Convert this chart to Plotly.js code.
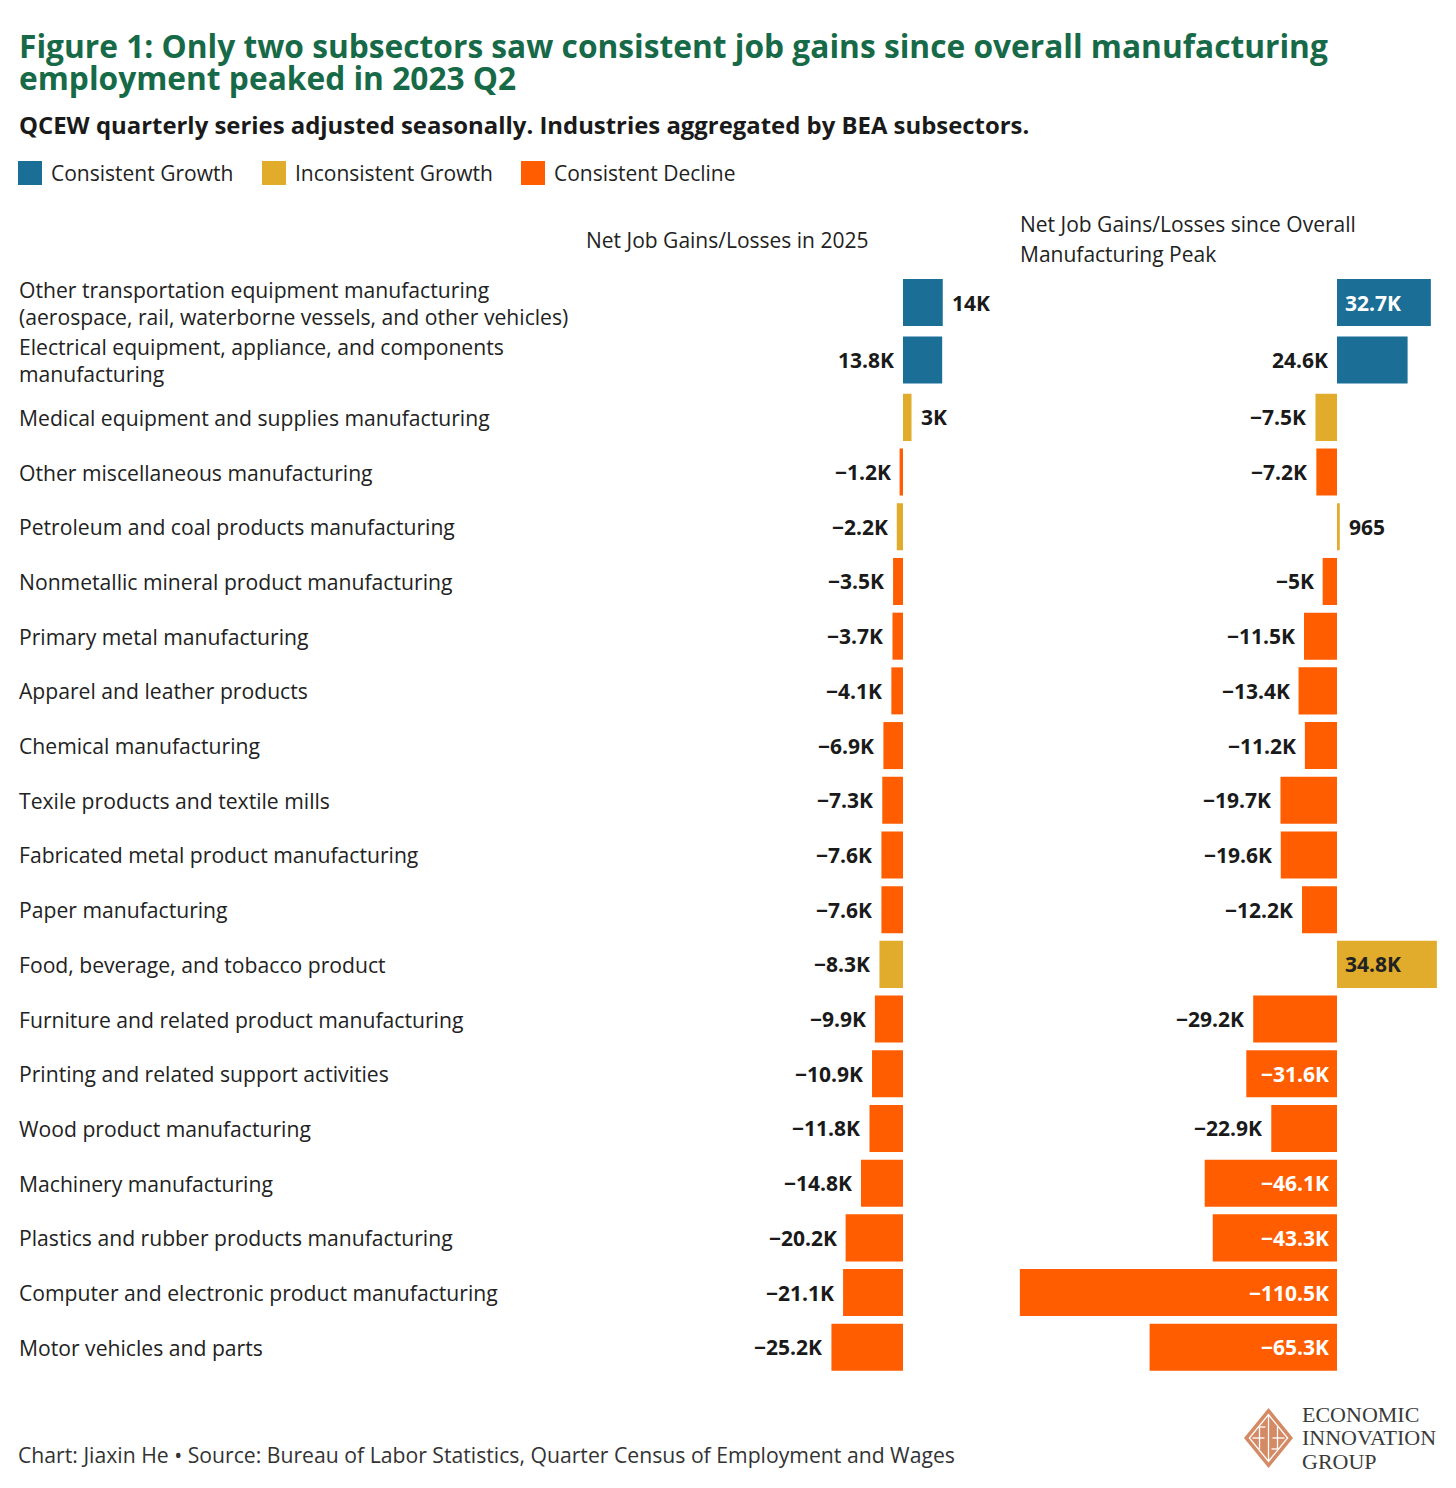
<!DOCTYPE html>
<html>
<head>
<meta charset="utf-8">
<script src="https://cdn.plot.ly/plotly-3.0.1.min.js"></script>
<style>
  html, body { margin: 0; padding: 0; background: #ffffff; }
  #chart { width: 1456px; height: 1488px; }
</style>
</head>
<body>
<div id="chart"></div>
<script>
// Manufacturing subsectors (BEA), ordered as displayed
const subsectors = [
  "Other transportation equipment manufacturing<br>(aerospace, rail, waterborne vessels, and other vehicles)",
  "Electrical equipment, appliance, and components<br>manufacturing",
  "Medical equipment and supplies manufacturing",
  "Other miscellaneous manufacturing",
  "Petroleum and coal products manufacturing",
  "Nonmetallic mineral product manufacturing",
  "Primary metal manufacturing",
  "Apparel and leather products",
  "Chemical manufacturing",
  "Texile products and textile mills",
  "Fabricated metal product manufacturing",
  "Paper manufacturing",
  "Food, beverage, and tobacco product",
  "Furniture and related product manufacturing",
  "Printing and related support activities",
  "Wood product manufacturing",
  "Machinery manufacturing",
  "Plastics and rubber products manufacturing",
  "Computer and electronic product manufacturing",
  "Motor vehicles and parts"
];

// Trend classification for each subsector
const trend = [
  "Consistent Growth", "Consistent Growth", "Inconsistent Growth", "Consistent Decline",
  "Inconsistent Growth", "Consistent Decline", "Consistent Decline", "Consistent Decline",
  "Consistent Decline", "Consistent Decline", "Consistent Decline", "Consistent Decline",
  "Inconsistent Growth", "Consistent Decline", "Consistent Decline", "Consistent Decline",
  "Consistent Decline", "Consistent Decline", "Consistent Decline", "Consistent Decline"
];

// Net job gains/losses in 2025 (thousands of jobs)
const netJobs2025 = [14, 13.8, 3, -1.2, -2.2, -3.5, -3.7, -4.1, -6.9, -7.3,
                     -7.6, -7.6, -8.3, -9.9, -10.9, -11.8, -14.8, -20.2, -21.1, -25.2];

// Net job gains/losses since the overall manufacturing peak, 2023 Q2 (thousands of jobs)
const netJobsSincePeak = [32.7, 24.6, -7.5, -7.2, 0.965, -5, -11.5, -13.4, -11.2, -19.7,
                          -19.6, -12.2, 34.8, -29.2, -31.6, -22.9, -46.1, -43.3, -110.5, -65.3];

const legendItems = ["Consistent Growth", "Inconsistent Growth", "Consistent Decline"];

// ---------- styling ----------
const W = 1456, H = 1488;
const FONT = "Open Sans, Noto Sans, sans-serif";
const colors = {
  "Consistent Growth": "#1b6e96",
  "Inconsistent Growth": "#e1ab2c",
  "Consistent Decline": "#ff5d00"
};
const insideTextColor = {
  "Consistent Growth": "#ffffff",
  "Inconsistent Growth": "#222222",
  "Consistent Decline": "#ffffff"
};
// value-label placement per row: "out" past the bar's positive end,
// "pre" to the left of the bar, "in" inside the bar next to zero
const placeLeft = ["out", "pre", "out", "pre", "pre", "pre", "pre", "pre", "pre", "pre",
                   "pre", "pre", "pre", "pre", "pre", "pre", "pre", "pre", "pre", "pre"];
const placeRight = ["in", "pre", "pre", "pre", "out", "pre", "pre", "pre", "pre", "pre",
                    "pre", "pre", "in", "pre", "in", "pre", "in", "in", "in", "in"];

const X = px => px / W;
const Y = py => 1 - py / H;

// row positions: rows with a two-line label get a little more room
const rowPos = [];
subsectors.forEach((s, i) => {
  if (i === 0) rowPos.push(0);
  else rowPos.push(rowPos[i - 1] + 1 + (subsectors[i - 1].includes("<br>") ? 0.05 : 0));
});
const rowUnit = 54.7;          // pixels per row unit
const firstRowPx = 302.5;      // centre of the first row
const yTopPx = firstRowPx - 0.5 * rowUnit;
const yBotPx = firstRowPx + (rowPos[rowPos.length - 1] + 0.5) * rowUnit;

// horizontal scales of the two panels
const leftPanel = { x0: 790, x1: 965, zero: 903, scale: 2.84 };
const rightPanel = { x0: 1000, x1: 1456, zero: 1337, scale: 2.87 };
const rangeOf = p => [(p.x0 - p.zero) / p.scale, (p.x1 - p.zero) / p.scale];

function fmt(v) {
  const a = Math.abs(v);
  let s;
  if (a < 1) s = String(Math.round(a * 1000));
  else s = (Math.round(a * 10) / 10).toString() + "K";
  return (v < 0 ? "\u2212" : "") + s;
}

const barColors = trend.map(t => colors[t]);

const traces = [
  {
    type: "bar", orientation: "h",
    x: netJobs2025, y: rowPos, width: 0.86,
    xaxis: "x", yaxis: "y",
    marker: { color: barColors, line: { width: 0 } },
    hoverinfo: "skip", showlegend: false
  },
  {
    type: "bar", orientation: "h",
    x: netJobsSincePeak, y: rowPos, width: 0.86,
    xaxis: "x2", yaxis: "y",
    marker: { color: barColors, line: { width: 0 } },
    hoverinfo: "skip", showlegend: false
  }
];

const annotations = [];
const shapes = [];
const TEXT = "#222222";
const BODY = 21.15;

// title, subtitle
annotations.push({
  xref: "paper", yref: "paper", x: X(17), y: Y(45), xanchor: "left", yanchor: "middle",
  text: "<b>Figure 1: Only two subsectors saw consistent job gains since overall manufacturing</b>",
  showarrow: false, font: { family: FONT, size: 31.7, color: "#176a47" }
});
annotations.push({
  xref: "paper", yref: "paper", x: X(17), y: Y(77), xanchor: "left", yanchor: "middle",
  text: "<b>employment peaked in 2023 Q2</b>",
  showarrow: false, font: { family: FONT, size: 31.7, color: "#176a47" }
});
annotations.push({
  xref: "paper", yref: "paper", x: X(17), y: Y(124), xanchor: "left", yanchor: "middle",
  text: "<b>QCEW quarterly series adjusted seasonally. Industries aggregated by BEA subsectors.</b>",
  showarrow: false, font: { family: FONT, size: 23.9, color: "#1a1a1a" }
});

// legend
const legendX = [18, 262, 521];
legendItems.forEach((name, i) => {
  shapes.push({
    type: "rect", xref: "paper", yref: "paper",
    x0: X(legendX[i]), x1: X(legendX[i] + 24), y0: Y(185), y1: Y(161),
    fillcolor: colors[name], line: { width: 0 }
  });
  annotations.push({
    xref: "paper", yref: "paper", x: X(legendX[i] + 31), y: Y(173), xanchor: "left", yanchor: "middle",
    text: name, showarrow: false, font: { family: FONT, size: 21, color: TEXT }
  });
});

// panel headers
annotations.push({
  xref: "paper", yref: "paper", x: X(584), y: Y(240), xanchor: "left", yanchor: "middle",
  text: "Net Job Gains/Losses in 2025", showarrow: false,
  font: { family: FONT, size: 21, color: TEXT }
});
annotations.push({
  xref: "paper", yref: "paper", x: X(1018), y: Y(224), xanchor: "left", yanchor: "middle",
  text: "Net Job Gains/Losses since Overall", showarrow: false,
  font: { family: FONT, size: 21, color: TEXT }
});
annotations.push({
  xref: "paper", yref: "paper", x: X(1018), y: Y(254), xanchor: "left", yanchor: "middle",
  text: "Manufacturing Peak", showarrow: false,
  font: { family: FONT, size: 21, color: TEXT }
});

// row labels
subsectors.forEach((name, i) => {
  annotations.push({
    xref: "paper", yref: "y", x: X(17), y: rowPos[i], xanchor: "left", yanchor: "middle",
    align: "left", text: name, showarrow: false,
    font: { family: FONT, size: BODY, color: TEXT }
  });
});

// value labels
function valueLabel(axis, v, place, i) {
  const t = trend[i];
  const ann = {
    xref: axis, yref: "y", y: rowPos[i], yanchor: "middle", showarrow: false,
    text: "<b>" + fmt(v) + "</b>",
    font: { family: FONT, size: 21, color: "#1a1a1a" }
  };
  if (place === "out") {
    ann.x = Math.max(0, v); ann.xanchor = "left"; ann.xshift = 7;
  } else if (place === "pre") {
    ann.x = Math.min(0, v); ann.xanchor = "right"; ann.xshift = -7;
  } else {
    ann.x = 0;
    ann.font.color = insideTextColor[t];
    if (v < 0) { ann.xanchor = "right"; ann.xshift = -6; }
    else { ann.xanchor = "left"; ann.xshift = 6; }
  }
  return ann;
}
netJobs2025.forEach((v, i) => annotations.push(valueLabel("x", v, placeLeft[i], i)));
netJobsSincePeak.forEach((v, i) => annotations.push(valueLabel("x2", v, placeRight[i], i)));

// footer
annotations.push({
  xref: "paper", yref: "paper", x: X(16), y: Y(1454), xanchor: "left", yanchor: "middle",
  text: "Chart: Jiaxin He \u2022 Source: Bureau of Labor Statistics, Quarter Census of Employment and Wages",
  showarrow: false, font: { family: FONT, size: 21.2, color: "#333333" }
});

// logo mark: copper diamond with white linework
const cx = 1268.5, cy = 1438, hw = 24.5, hh = 30;
const pathOf = pts => pts.map((p, k) => (k ? "L" : "M") + X(p[0]) + "," + Y(p[1])).join(" ");
shapes.push({
  type: "path", xref: "paper", yref: "paper",
  path: pathOf([[cx, cy - hh], [cx + hw, cy], [cx, cy + hh], [cx - hw, cy]]) + " Z",
  fillcolor: "#d48a64", line: { width: 0 }
});
const ins = 0.78;
shapes.push({
  type: "path", xref: "paper", yref: "paper",
  path: pathOf([[cx, cy - hh * ins], [cx + hw * ins, cy], [cx, cy + hh * ins], [cx - hw * ins, cy]]) + " Z",
  fillcolor: "rgba(0,0,0,0)", line: { color: "#ffffff", width: 1.3 }
});
[
  [[cx, cy - hh * ins], [cx, cy + hh * ins]],
  [[cx - 9, cy - 11], [cx - 9, cy + 11]],
  [[cx + 9, cy - 11], [cx + 9, cy + 11]],
  [[cx - 16, cy], [cx - 4, cy]],
  [[cx + 4, cy], [cx + 16, cy]],
  [[cx - 9, cy - 11], [cx - 3, cy - 11]],
  [[cx + 3, cy + 11], [cx + 9, cy + 11]]
].forEach(seg => {
  shapes.push({
    type: "line", xref: "paper", yref: "paper",
    x0: X(seg[0][0]), y0: Y(seg[0][1]), x1: X(seg[1][0]), y1: Y(seg[1][1]),
    line: { color: "#ffffff", width: 1.3 }
  });
});
["ECONOMIC", "INNOVATION", "GROUP"].forEach((w, k) => {
  annotations.push({
    xref: "paper", yref: "paper", x: X(1300), y: Y(1414 + 23.5 * k), xanchor: "left", yanchor: "middle",
    text: w, showarrow: false,
    font: { family: "Liberation Serif, DejaVu Serif, serif", size: 22, color: "#3a3a3a" }
  });
});

const hiddenAxis = {
  showgrid: false, zeroline: false, showline: false, showticklabels: false, ticks: "",
  fixedrange: true
};

const layout = {
  width: W, height: H,
  margin: { l: 0, r: 0, t: 0, b: 0 },
  paper_bgcolor: "#ffffff", plot_bgcolor: "rgba(0,0,0,0)",
  showlegend: false,
  barmode: "overlay",
  xaxis: Object.assign({}, hiddenAxis, {
    domain: [X(leftPanel.x0), X(leftPanel.x1)], range: rangeOf(leftPanel), anchor: "y"
  }),
  xaxis2: Object.assign({}, hiddenAxis, {
    domain: [X(rightPanel.x0), X(rightPanel.x1)], range: rangeOf(rightPanel), anchor: "y"
  }),
  yaxis: Object.assign({}, hiddenAxis, {
    domain: [Y(yBotPx), Y(yTopPx)],
    range: [rowPos[rowPos.length - 1] + 0.5, -0.5]
  }),
  annotations: annotations,
  shapes: shapes,
  font: { family: FONT }
};

Plotly.newPlot("chart", traces, layout, { displayModeBar: false, staticPlot: true });
</script>
</body>
</html>
